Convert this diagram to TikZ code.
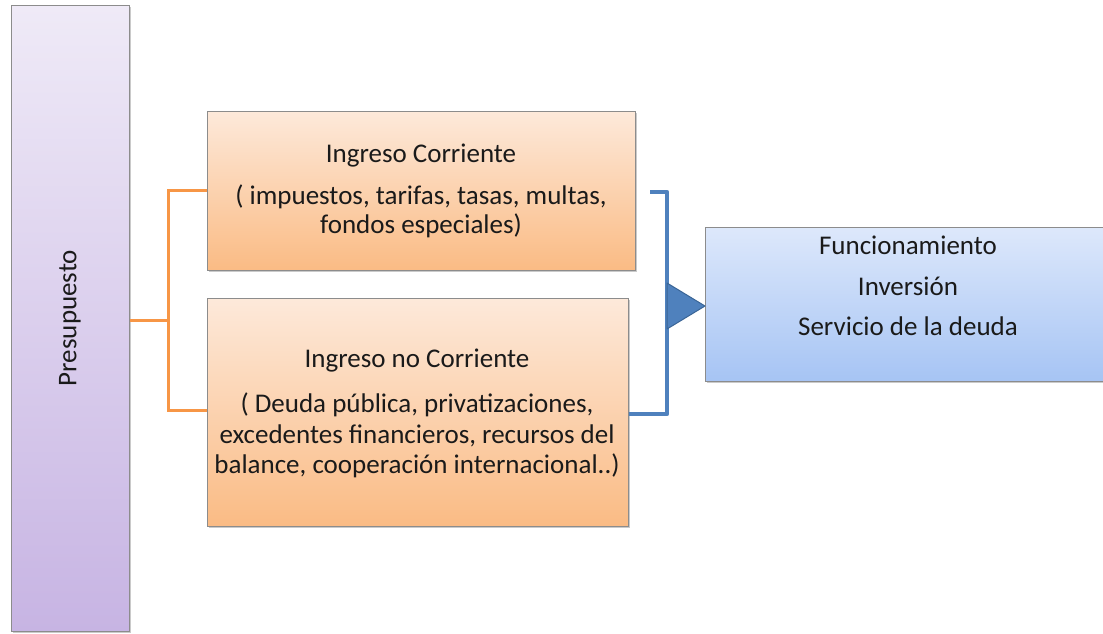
\documentclass[tikz,border=0pt]{standalone}
\usepackage{fontspec}
\setmainfont{Carlito}
\usetikzlibrary{shadows}
\definecolor{presTop}{HTML}{EFEAF7}
\definecolor{presBot}{HTML}{C7B4E3}
\definecolor{oraTop}{HTML}{FDE9DA}
\definecolor{oraBot}{HTML}{FABB84}
\definecolor{bluTop}{HTML}{DDE8FB}
\definecolor{bluBot}{HTML}{A6C4F4}
\definecolor{oraLine}{HTML}{F79646}
\definecolor{bluLine}{HTML}{4F81BD}
\definecolor{bluDark}{HTML}{3A6596}
\definecolor{edgeGray}{HTML}{8C8C8C}
\definecolor{txt}{HTML}{1A1A1A}
\tikzset{
  boxbase/.style={draw=edgeGray, line width=0.8pt, anchor=north west, inner sep=0pt,
     drop shadow={shadow xshift=2pt, shadow yshift=-2pt, opacity=0.35, fill=black!60}},
  presbox/.style={boxbase, top color=presTop, bottom color=presBot},
  orabox/.style={boxbase, top color=oraTop, bottom color=oraBot},
  blubox/.style={boxbase, top color=bluTop, bottom color=bluBot},
  label/.style={font=\fontsize{27}{32}\selectfont, text=txt, inner sep=0pt, anchor=center},
  oraconn/.style={draw=oraLine, line width=3pt},
  bluconn/.style={draw=bluLine, line width=4.5pt, line join=round},
}
\begin{document}
\begin{tikzpicture}[x=1pt,y=-1pt]
\useasboundingbox (0,0) rectangle (1103,633);
% boxes
\node[presbox, minimum width=118pt, minimum height=626pt] (pres) at (11,5) {};
\node[orabox, minimum width=428pt, minimum height=159pt] (ic) at (207,111) {};
\node[orabox, minimum width=421pt, minimum height=228pt] (inc) at (207,298) {};
\begin{scope}
\clip (0,0) rectangle (1103,633);
\node[blubox, minimum width=408pt, minimum height=154pt] (out) at (705,227) {};
\end{scope}
% texts
\node[label, rotate=90] (presT) at (70,318) {Presupuesto};
\node[label] (icT1) at (421,156) {Ingreso Corriente};
\node[label] (icT2) at (421,197) {( impuestos, tarifas, tasas, multas,};
\node[label] (icT3) at (421,226) {fondos especiales)};
\node[label] (incT1) at (417,361) {Ingreso no Corriente};
\node[label] (incT2) at (417,405) {( Deuda pública, privatizaciones,};
\node[label] (incT3) at (417,436) {excedentes financieros, recursos del};
\node[label] (incT4) at (417,466) {balance, cooperación internacional..)};
\node[label] (outT1) at (908,245) {Funcionamiento};
\node[label] (outT2) at (908,286) {Inversión};
\node[label] (outT3) at (908,326) {Servicio de la deuda};
% orange connector
\coordinate (jn) at (168,320);
\draw[oraconn] (pres.east |- jn) -- (jn);
\draw[oraconn] (ic.west |- 0,190) -| (jn) |- (inc.west |- 0,410);
% blue bracket
\coordinate (bt) at (667,192);
\coordinate (bb) at (667,414);
\draw[bluconn] (650,192) -- (bt) -- (bb) -- (inc.east |- bb);
% triangle
\coordinate (tip) at (705,306);
\filldraw[fill=bluLine, draw=bluDark, line width=1pt, line join=round]
  (667,283) -- (out.west |- tip) -- (667,329) -- cycle;
\end{tikzpicture}
\end{document}
